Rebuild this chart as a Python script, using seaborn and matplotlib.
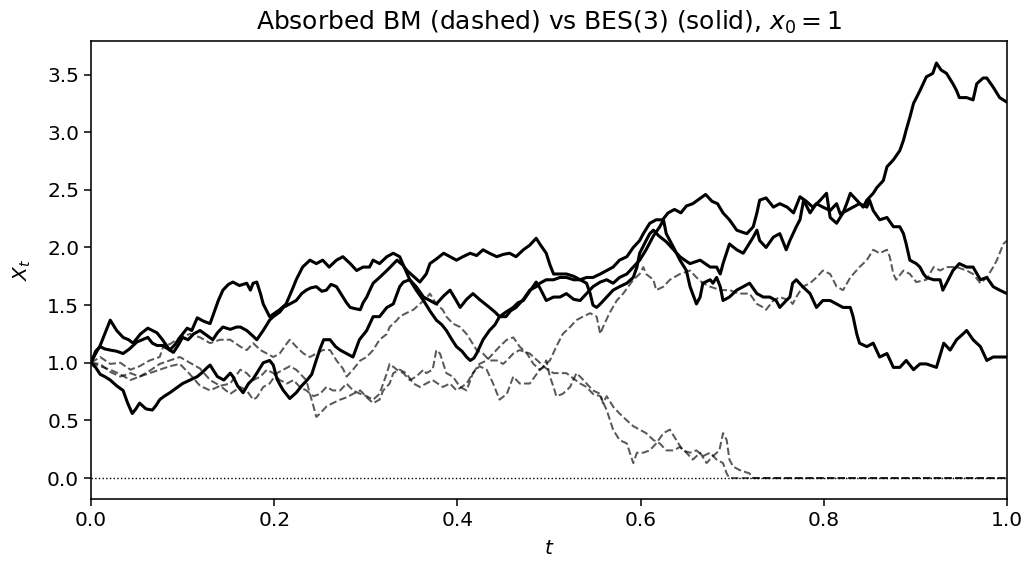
import numpy as np
import pandas as pd
import matplotlib
matplotlib.use("Agg")
import matplotlib.pyplot as plt
import seaborn as sns

# --- BES(3) paths (solid) ---
t_bes_a = [0, .005, .010, .015, .021, .028, .035, .041, .046, .054, .062, .067, .072, .078, .086, .092, .097, .105, .110, .116,
           .123, .130, .135, .139, .144, .150, .155, .162, .170, .174, .177, .181, .185, .188, .195, .206, .213, .221, .224, .231,
           .235, .239, .246, .253, .260, .268, .275, .283, .290, .297, .304, .308, .315, .323, .330, .337, .348, .355, .363, .370,
           .377, .383, .388, .394, .399, .405, .410, .414, .418, .421, .428, .435, .441, .446, .453, .458, .464, .472, .479, .486,
           .490, .497, .505, .512, .519, .527, .534, .541, .548, .556, .563, .570, .577, .585, .592, .599, .603, .610, .617, .624,
           .630, .637, .644, .650, .657, .664, .671, .678, .684, .690, .697, .705, .712, .716, .723, .727, .730, .737, .745, .752,
           .760, .767, .774, .781, .788, .795, .803, .807, .814, .821, .825, .829, .836, .843, .847, .854, .858, .865, .869, .876,
           .883, .887, .890, .894, .898, .905, .912, .919, .923, .928, .934, .941, .945, .948, .956, .963, .967, .974, .978, .985,
           .992, 1.0]
x_bes_a = [1.00, 1.08, 1.15, 1.25, 1.37, 1.28, 1.22, 1.20, 1.17, 1.25, 1.30, 1.28, 1.26, 1.20, 1.11, 1.16, 1.22, 1.30, 1.28, 1.39,
           1.36, 1.34, 1.45, 1.54, 1.63, 1.68, 1.70, 1.67, 1.69, 1.63, 1.69, 1.70, 1.60, 1.51, 1.40, 1.46, 1.51, 1.66, 1.72, 1.83,
           1.86, 1.89, 1.86, 1.89, 1.83, 1.89, 1.92, 1.86, 1.80, 1.83, 1.83, 1.89, 1.86, 1.92, 1.95, 1.92, 1.72, 1.63, 1.54, 1.45,
           1.37, 1.33, 1.28, 1.20, 1.14, 1.10, 1.05, 1.02, 1.04, 1.08, 1.20, 1.28, 1.33, 1.40, 1.40, 1.45, 1.48, 1.55, 1.63, 1.66,
           1.69, 1.72, 1.72, 1.74, 1.74, 1.72, 1.72, 1.74, 1.74, 1.77, 1.80, 1.83, 1.89, 1.92, 2.00, 2.06, 2.12, 2.21, 2.24, 2.24,
           2.30, 2.33, 2.30, 2.36, 2.38, 2.42, 2.46, 2.40, 2.38, 2.30, 2.24, 2.15, 2.13, 2.12, 2.18, 2.30, 2.41, 2.43, 2.35, 2.38,
           2.35, 2.30, 2.44, 2.40, 2.35, 2.40, 2.47, 2.26, 2.21, 2.30, 2.38, 2.47, 2.41, 2.35, 2.41, 2.47, 2.52, 2.58, 2.70, 2.76,
           2.84, 2.93, 3.02, 3.13, 3.25, 3.36, 3.48, 3.51, 3.60, 3.54, 3.51, 3.42, 3.36, 3.30, 3.30, 3.28, 3.42, 3.47, 3.47, 3.39,
           3.30, 3.26]

t_bes_b = [0, .005, .010, .015, .021, .028, .035, .042, .050, .056, .062, .067, .072, .078, .084, .090, .095, .100, .106, .112,
           .119, .126, .133, .138, .144, .152, .159, .163, .170, .177, .181, .188, .195, .199, .206, .210, .217, .224, .230, .235,
           .240, .246, .252, .257, .262, .268, .275, .279, .283, .288, .294, .297, .301, .305, .308, .315, .323, .328, .334, .340,
           .345, .352, .359, .366, .370, .377, .385, .392, .399, .406, .414, .421, .428, .435, .443, .450, .457, .464, .472, .479,
           .486, .490, .497, .501, .505, .512, .519, .527, .534, .541, .545, .548, .552, .556, .563, .570, .577, .585, .592, .596,
           .599, .606, .610, .614, .620, .628, .636, .643, .650, .654, .665, .676, .683, .687, .690, .697, .705, .712, .716, .723,
           .727, .730, .737, .745, .752, .759, .763, .770, .774, .778, .785, .792, .799, .807, .814, .818, .825, .832, .839, .847,
           .850, .854, .861, .869, .876, .883, .887, .890, .894, .901, .905, .909, .912, .920, .927, .930, .934, .941, .948, .956,
           .963, .971, .978, .985, .992, 1.0]
x_bes_b = [1.00, 1.10, 1.14, 1.12, 1.11, 1.10, 1.08, 1.12, 1.18, 1.20, 1.22, 1.17, 1.15, 1.15, 1.12, 1.09, 1.15, 1.22, 1.20, 1.25,
           1.28, 1.24, 1.20, 1.26, 1.31, 1.29, 1.31, 1.31, 1.28, 1.23, 1.20, 1.28, 1.37, 1.40, 1.44, 1.48, 1.51, 1.54, 1.60, 1.63,
           1.65, 1.66, 1.62, 1.63, 1.68, 1.66, 1.57, 1.52, 1.48, 1.47, 1.46, 1.52, 1.57, 1.64, 1.69, 1.74, 1.80, 1.84, 1.89, 1.85,
           1.80, 1.75, 1.70, 1.77, 1.86, 1.90, 1.95, 1.92, 1.89, 1.92, 1.95, 1.93, 1.98, 1.95, 1.92, 1.94, 1.95, 1.92, 1.98, 2.02,
           2.08, 2.03, 1.95, 1.85, 1.77, 1.77, 1.77, 1.75, 1.72, 1.69, 1.60, 1.50, 1.48, 1.51, 1.57, 1.63, 1.66, 1.69, 1.74, 1.83,
           1.95, 2.06, 2.12, 2.15, 2.10, 2.05, 1.98, 1.92, 1.88, 1.86, 1.89, 1.83, 1.83, 1.77, 1.86, 2.03, 1.98, 1.95, 2.00, 2.09,
           2.15, 2.06, 2.00, 2.09, 2.12, 1.98, 2.06, 2.18, 2.24, 2.41, 2.30, 2.38, 2.35, 2.32, 2.38, 2.29, 2.32, 2.35, 2.38, 2.35,
           2.41, 2.32, 2.24, 2.26, 2.18, 2.18, 2.12, 2.03, 1.89, 1.86, 1.83, 1.77, 1.74, 1.72, 1.72, 1.63, 1.69, 1.80, 1.86, 1.83,
           1.83, 1.72, 1.74, 1.66, 1.63, 1.60]

t_bes_c = [0, .005, .010, .015, .021, .028, .035, .040, .045, .049, .053, .060, .067, .071, .075, .080, .086, .093, .100, .108,
           .116, .122, .127, .130, .138, .145, .152, .155, .160, .166, .172, .177, .181, .188, .195, .199, .203, .207, .210, .214,
           .217, .224, .230, .236, .241, .245, .250, .254, .261, .267, .272, .279, .286, .293, .301, .308, .315, .323, .330, .337,
           .341, .348, .355, .363, .370, .377, .385, .392, .398, .403, .410, .417, .424, .435, .441, .446, .453, .461, .466, .472,
           .479, .486, .490, .497, .505, .512, .519, .527, .534, .541, .548, .556, .563, .570, .577, .585, .592, .599, .606, .614,
           .621, .625, .628, .636, .643, .650, .654, .661, .665, .668, .676, .679, .683, .687, .690, .697, .705, .712, .719, .727,
           .734, .741, .748, .752, .759, .763, .766, .770, .777, .785, .792, .799, .807, .814, .821, .829, .832, .836, .839, .847,
           .854, .861, .869, .876, .883, .890, .898, .905, .912, .923, .931, .938, .945, .952, .956, .963, .971, .978, .985, .992,
           1.0]
x_bes_c = [1.00, 0.96, 0.90, 0.88, 0.85, 0.80, 0.76, 0.65, 0.56, 0.60, 0.65, 0.60, 0.59, 0.63, 0.68, 0.71, 0.74, 0.78, 0.82, 0.85,
           0.88, 0.92, 0.96, 0.98, 0.88, 0.85, 0.91, 0.88, 0.80, 0.74, 0.82, 0.86, 0.91, 1.00, 1.02, 0.98, 0.86, 0.80, 0.76, 0.72,
           0.69, 0.74, 0.80, 0.85, 0.90, 1.00, 1.12, 1.20, 1.20, 1.14, 1.11, 1.08, 1.05, 1.20, 1.28, 1.40, 1.40, 1.48, 1.51, 1.66,
           1.70, 1.72, 1.66, 1.57, 1.54, 1.51, 1.58, 1.63, 1.55, 1.48, 1.55, 1.60, 1.55, 1.48, 1.44, 1.40, 1.44, 1.48, 1.52, 1.54,
           1.62, 1.70, 1.65, 1.54, 1.57, 1.57, 1.60, 1.55, 1.54, 1.60, 1.66, 1.70, 1.72, 1.69, 1.74, 1.77, 1.83, 1.89, 1.98, 2.10,
           2.18, 2.24, 2.12, 2.00, 1.89, 1.80, 1.66, 1.51, 1.57, 1.69, 1.72, 1.69, 1.74, 1.66, 1.54, 1.57, 1.63, 1.66, 1.69, 1.60,
           1.57, 1.57, 1.54, 1.48, 1.54, 1.57, 1.69, 1.72, 1.66, 1.60, 1.48, 1.54, 1.54, 1.51, 1.48, 1.48, 1.40, 1.25, 1.17, 1.14,
           1.17, 1.05, 1.08, 0.96, 0.96, 1.02, 0.94, 0.99, 0.99, 0.96, 1.17, 1.11, 1.20, 1.25, 1.28, 1.20, 1.14, 1.02, 1.05, 1.05,
           1.05]

# --- absorbed Brownian paths (dashed) ---
t_bm_a = [0, .010, .021, .032, .043, .053, .064, .075, .080, .086, .097, .108, .119, .130, .141, .152, .163, .170, .177, .185,
          .192, .199, .206, .214, .217, .224, .232, .239, .246, .253, .261, .268, .275, .279, .286, .294, .301, .308, .315, .323,
          .326, .334, .337, .344, .352, .359, .366, .370, .377, .384, .388, .395, .403, .410, .414, .421, .428, .435, .443, .450,
          .454, .461, .468, .479, .490, .497, .505, .519, .534, .541, .548, .556, .563, .570, .577, .585, .592, .596, .603, .610,
          .617, .625, .632, .639, .646, .654, .661, .668, .676, .683, .690, .694, .697, 1.0]
x_bm_a = [1.00, 1.05, 0.99, 1.00, 0.94, 0.97, 1.02, 1.05, 1.17, 1.16, 1.22, 1.25, 1.22, 1.17, 1.20, 1.20, 1.14, 1.11, 1.17, 1.11,
          1.08, 1.05, 1.08, 1.17, 1.20, 1.14, 1.08, 1.05, 1.08, 1.11, 1.11, 1.02, 0.95, 0.88, 0.94, 1.02, 1.05, 1.11, 1.20, 1.25,
          1.31, 1.37, 1.40, 1.43, 1.46, 1.51, 1.56, 1.60, 1.51, 1.46, 1.40, 1.34, 1.31, 1.25, 1.20, 1.11, 1.08, 1.02, 1.02, 0.99,
          1.02, 1.08, 1.11, 1.08, 1.00, 0.95, 0.91, 0.91, 0.82, 0.79, 0.73, 0.71, 0.59, 0.42, 0.33, 0.30, 0.13, 0.22, 0.22, 0.24,
          0.30, 0.39, 0.42, 0.33, 0.24, 0.22, 0.24, 0.19, 0.22, 0.16, 0.13, 0.04, 0.0, 0.0]

t_bm_b = [0, .010, .021, .032, .043, .053, .064, .075, .086, .097, .108, .119, .130, .141, .152, .163, .170, .177, .181, .188,
          .195, .203, .210, .217, .224, .235, .239, .243, .246, .250, .257, .264, .272, .279, .286, .294, .301, .308, .315, .319,
          .326, .330, .337, .344, .352, .359, .366, .373, .384, .392, .399, .410, .417, .424, .432, .439, .446, .454, .461, .468,
          .476, .483, .490, .494, .497, .501, .505, .508, .515, .523, .530, .534, .541, .548, .556, .559, .563, .570, .577, .585,
          .592, .599, .606, .614, .621, .628, .636, .643, .650, .657, .665, .672, .679, .686, .690, .694, .697, .701, .708, .719,
          .723, 1.0]
x_bm_b = [1.00, 0.97, 0.94, 0.90, 0.85, 0.88, 0.91, 0.94, 0.97, 0.99, 0.90, 0.80, 0.76, 0.80, 0.73, 0.79, 0.76, 0.68, 0.70, 0.79,
          0.82, 0.91, 0.94, 0.97, 0.94, 0.85, 0.73, 0.62, 0.53, 0.56, 0.62, 0.65, 0.68, 0.70, 0.73, 0.76, 0.70, 0.65, 0.68, 0.76,
          0.82, 0.91, 0.94, 0.91, 0.82, 0.79, 0.82, 0.85, 0.79, 0.82, 0.76, 0.82, 0.91, 0.99, 1.02, 1.08, 1.14, 1.20, 1.22, 1.14,
          1.08, 0.99, 0.94, 0.96, 1.02, 0.88, 0.79, 0.71, 0.73, 0.79, 0.91, 0.88, 0.82, 0.76, 0.73, 0.65, 0.71, 0.62, 0.56, 0.50,
          0.45, 0.42, 0.39, 0.33, 0.30, 0.24, 0.24, 0.27, 0.22, 0.16, 0.22, 0.13, 0.19, 0.24, 0.39, 0.33, 0.16, 0.10, 0.07, 0.04,
          0.0, 0.0]

t_bm_c = [0, .010, .021, .032, .043, .053, .064, .075, .086, .097, .108, .119, .130, .141, .152, .163, .170, .177, .185, .192,
          .199, .206, .214, .221, .228, .235, .243, .250, .257, .264, .272, .279, .286, .294, .301, .308, .315, .323, .326, .334,
          .341, .348, .355, .363, .366, .373, .377, .381, .388, .395, .403, .410, .417, .424, .432, .439, .446, .454, .461, .468,
          .479, .490, .501, .508, .515, .523, .530, .537, .545, .552, .556, .559, .566, .574, .581, .592, .599, .603, .606, .614,
          .617, .625, .632, .643, .654, .661, .668, .676, .687, .697, .708, .719, .727, .734, .737, .745, .752, .763, .766, .770,
          .777, .785, .792, .799, .807, .814, .821, .829, .839, .847, .854, .861, .869, .872, .876, .879, .887, .894, .901, .912,
          .920, .927, .934, .945, .956, .963, .971, .978, .985, .989, .996, 1.0]
x_bm_c = [1.00, 0.99, 0.92, 0.88, 0.91, 0.88, 0.93, 0.99, 1.02, 1.05, 1.00, 0.95, 0.85, 0.80, 0.82, 0.94, 0.91, 0.85, 0.88, 0.94,
          0.91, 0.85, 0.82, 0.85, 0.79, 0.76, 0.71, 0.73, 0.79, 0.76, 0.76, 0.82, 0.76, 0.73, 0.71, 0.68, 0.73, 0.91, 0.99, 0.94,
          0.91, 0.85, 0.88, 0.94, 0.91, 0.94, 1.11, 1.08, 0.91, 0.88, 0.79, 0.76, 0.91, 0.97, 0.94, 0.82, 0.68, 0.73, 0.88, 0.82,
          0.82, 0.94, 1.02, 1.14, 1.25, 1.31, 1.37, 1.40, 1.43, 1.40, 1.25, 1.31, 1.43, 1.54, 1.60, 1.72, 1.77, 1.83, 1.77, 1.72,
          1.63, 1.66, 1.72, 1.77, 1.80, 1.74, 1.69, 1.66, 1.63, 1.63, 1.60, 1.60, 1.51, 1.48, 1.46, 1.54, 1.57, 1.54, 1.51, 1.57,
          1.66, 1.69, 1.74, 1.80, 1.77, 1.66, 1.63, 1.74, 1.83, 1.89, 1.98, 1.95, 1.98, 1.92, 1.77, 1.72, 1.80, 1.77, 1.70, 1.72,
          1.83, 1.80, 1.83, 1.83, 1.80, 1.77, 1.69, 1.74, 1.83, 1.89, 2.03, 2.06]

bes_paths = [(t_bes_a, x_bes_a), (t_bes_b, x_bes_b), (t_bes_c, x_bes_c)]
bm_paths = [(t_bm_a, x_bm_a), (t_bm_b, x_bm_b), (t_bm_c, x_bm_c)]

sns.set_style("ticks", {"axes.edgecolor": "black", "text.color": "black",
                        "axes.labelcolor": "black", "xtick.color": "black",
                        "ytick.color": "black"})
plt.rcParams['font.family'] = ['DejaVu Sans']

fig = plt.figure(figsize=(10.25, 5.63), dpi=100)
ax = fig.add_axes([0.0888, 0.114, 0.8936, 0.813])

# dashed BM: semi-transparent black, so the two absorbed paths darken on 0
for t, x in bm_paths:
    sns.lineplot(x=t, y=x, ax=ax, color="black", alpha=0.65, linestyle="--",
                 linewidth=1.45, estimator=None, sort=False)
for t, x in bes_paths:
    sns.lineplot(x=t, y=x, ax=ax, color="black", linewidth=2.2,
                 estimator=None, sort=False)

ax.axhline(0, color="black", linestyle=":", linewidth=1.0)

ax.set_xlim(0, 1)
ax.set_ylim(-0.18, 3.79)
ax.set_yticks(np.arange(0, 3.51, 0.5))
ax.tick_params(labelsize=14.5, length=5, width=1.1)
ax.set_xlabel("$t$", fontsize=14.5, labelpad=7)
ax.set_ylabel("$X_t$", fontsize=14.5, labelpad=10)
ax.set_title("Absorbed BM (dashed) vs BES(3) (solid), $x_0 = 1$", fontsize=18, pad=8)
for s in ax.spines.values():
    s.set_linewidth(1.15)

fig.savefig("out.png", dpi=100)
